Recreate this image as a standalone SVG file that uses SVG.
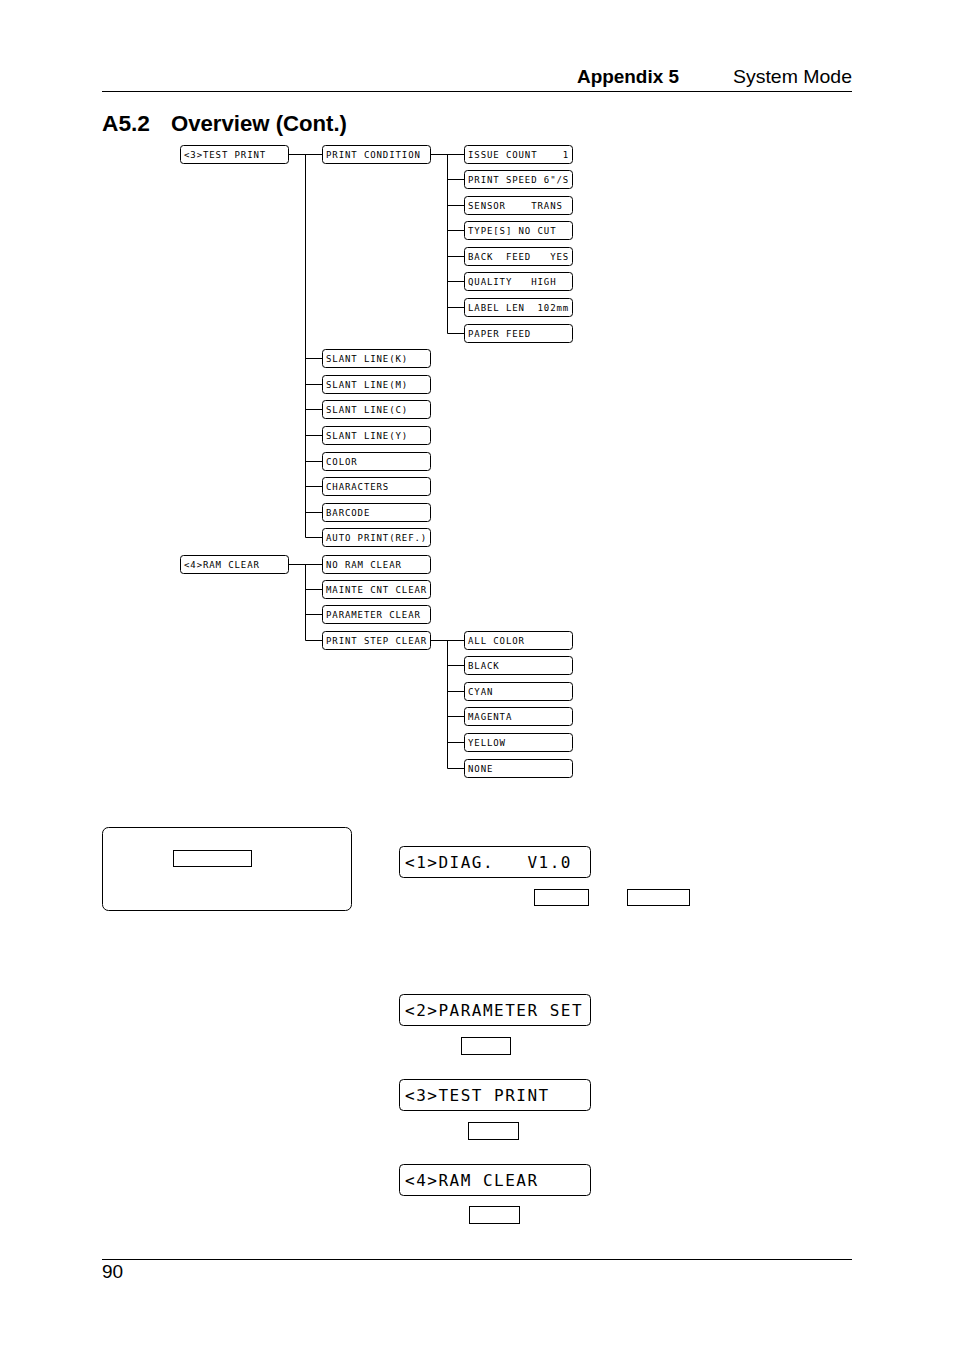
<svg xmlns="http://www.w3.org/2000/svg" width="954" height="1351" viewBox="0 0 954 1351">
<style>
.bg{fill:#fff}
.rule{stroke:#000;stroke-width:1}
.hdr{font-family:"Liberation Sans",Arial,sans-serif;font-size:19px;fill:#000}
.ttl{font-family:"Liberation Sans",Arial,sans-serif;font-size:22px;font-weight:bold;fill:#000}
.nb{fill:#fff;stroke:#000;stroke-width:1}
.nt{font-family:"DejaVu Sans Mono","Liberation Mono",monospace;font-size:9px;letter-spacing:0.9px;fill:#000;white-space:pre}
.lcd{fill:#fff;stroke:#000;stroke-width:1}
.lt{font-family:"DejaVu Sans Mono","Liberation Mono",monospace;font-size:16px;letter-spacing:1.5px;fill:#000;white-space:pre}
.key{fill:#fff;stroke:#000;stroke-width:1}
.cn{fill:none;stroke:#000;stroke-width:1}
</style>
<rect class="bg" x="0" y="0" width="954" height="1351"/>
<!-- header -->
<text class="hdr" x="577" y="83" font-weight="bold" textLength="102" lengthAdjust="spacingAndGlyphs">Appendix 5</text>
<text class="hdr" x="733" y="83" textLength="119" lengthAdjust="spacingAndGlyphs">System Mode</text>
<line class="rule" x1="102" y1="91.5" x2="852" y2="91.5"/>
<text class="ttl" x="102" y="131" textLength="48" lengthAdjust="spacingAndGlyphs">A5.2</text>
<text class="ttl" x="171" y="131" textLength="176" lengthAdjust="spacingAndGlyphs">Overview (Cont.)</text>
<line class="rule" x1="102" y1="1259.5" x2="852" y2="1259.5"/>
<text class="hdr" x="102" y="1278">90</text>

<!-- connectors -->
<g id="connectors">
<path class="cn" d="M288,154.5 H322 M305.5,154.5 V537.5 H322 M305.5,358.5 H322 M305.5,384.5 H322 M305.5,409.5 H322 M305.5,435.5 H322 M305.5,461.5 H322 M305.5,486.5 H322 M305.5,512.5 H322"/>
<path class="cn" d="M430,154.5 H464 M447.5,154.5 V333.5 H464 M447.5,179.5 H464 M447.5,205.5 H464 M447.5,230.5 H464 M447.5,256.5 H464 M447.5,281.5 H464 M447.5,307.5 H464"/>
<path class="cn" d="M288,564.5 H322 M305.5,564.5 V640.5 H322 M305.5,589.5 H322 M305.5,614.5 H322"/>
<path class="cn" d="M430,640.5 H464 M447.5,640.5 V768.5 H464 M447.5,665.5 H464 M447.5,691.5 H464 M447.5,716.5 H464 M447.5,742.5 H464"/>
</g>

<!-- column 1 -->
<g id="n-test-print"><rect class="nb" x="180.5" y="145.5" width="108" height="18" rx="3"/><text class="nt" x="184" y="157.5">&lt;3&gt;TEST PRINT</text></g>
<g id="n-ram-clear"><rect class="nb" x="180.5" y="555.5" width="108" height="18" rx="3"/><text class="nt" x="184" y="567.5">&lt;4&gt;RAM CLEAR</text></g>

<!-- column 2 -->
<g id="n-print-condition"><rect class="nb" x="322.5" y="145.5" width="108" height="18" rx="3"/><text class="nt" x="326" y="157.5">PRINT CONDITION</text></g>
<g id="n-slant-k"><rect class="nb" x="322.5" y="349.5" width="108" height="18" rx="3"/><text class="nt" x="326" y="361.5">SLANT LINE(K)</text></g>
<g id="n-slant-m"><rect class="nb" x="322.5" y="375.5" width="108" height="18" rx="3"/><text class="nt" x="326" y="387.5">SLANT LINE(M)</text></g>
<g id="n-slant-c"><rect class="nb" x="322.5" y="400.5" width="108" height="18" rx="3"/><text class="nt" x="326" y="412.5">SLANT LINE(C)</text></g>
<g id="n-slant-y"><rect class="nb" x="322.5" y="426.5" width="108" height="18" rx="3"/><text class="nt" x="326" y="438.5">SLANT LINE(Y)</text></g>
<g id="n-color"><rect class="nb" x="322.5" y="452.5" width="108" height="18" rx="3"/><text class="nt" x="326" y="464.5">COLOR</text></g>
<g id="n-characters"><rect class="nb" x="322.5" y="477.5" width="108" height="18" rx="3"/><text class="nt" x="326" y="489.5">CHARACTERS</text></g>
<g id="n-barcode"><rect class="nb" x="322.5" y="503.5" width="108" height="18" rx="3"/><text class="nt" x="326" y="515.5">BARCODE</text></g>
<g id="n-auto-print"><rect class="nb" x="322.5" y="528.5" width="108" height="18" rx="3"/><text class="nt" x="326" y="540.5">AUTO PRINT(REF.)</text></g>
<g id="n-no-ram-clear"><rect class="nb" x="322.5" y="555.5" width="108" height="18" rx="3"/><text class="nt" x="326" y="567.5">NO RAM CLEAR</text></g>
<g id="n-mainte"><rect class="nb" x="322.5" y="580.5" width="108" height="18" rx="3"/><text class="nt" x="326" y="592.5">MAINTE CNT CLEAR</text></g>
<g id="n-param-clear"><rect class="nb" x="322.5" y="605.5" width="108" height="18" rx="3"/><text class="nt" x="326" y="617.5">PARAMETER CLEAR</text></g>
<g id="n-print-step"><rect class="nb" x="322.5" y="631.5" width="108" height="18" rx="3"/><text class="nt" x="326" y="643.5">PRINT STEP CLEAR</text></g>

<!-- column 3 -->
<g id="n-issue"><rect class="nb" x="464.5" y="145.5" width="108" height="18" rx="3"/><text class="nt" x="468" y="157.5">ISSUE COUNT    1</text></g>
<g id="n-speed"><rect class="nb" x="464.5" y="170.5" width="108" height="18" rx="3"/><text class="nt" x="468" y="182.5">PRINT SPEED 6"/S</text></g>
<g id="n-sensor"><rect class="nb" x="464.5" y="196.5" width="108" height="18" rx="3"/><text class="nt" x="468" y="208.5">SENSOR    TRANS</text></g>
<g id="n-type"><rect class="nb" x="464.5" y="221.5" width="108" height="18" rx="3"/><text class="nt" x="468" y="233.5">TYPE[S] NO CUT</text></g>
<g id="n-back"><rect class="nb" x="464.5" y="247.5" width="108" height="18" rx="3"/><text class="nt" x="468" y="259.5">BACK  FEED   YES</text></g>
<g id="n-quality"><rect class="nb" x="464.5" y="272.5" width="108" height="18" rx="3"/><text class="nt" x="468" y="284.5">QUALITY   HIGH</text></g>
<g id="n-label"><rect class="nb" x="464.5" y="298.5" width="108" height="18" rx="3"/><text class="nt" x="468" y="310.5">LABEL LEN  102mm</text></g>
<g id="n-paper"><rect class="nb" x="464.5" y="324.5" width="108" height="18" rx="3"/><text class="nt" x="468" y="336.5">PAPER FEED</text></g>
<g id="n-all-color"><rect class="nb" x="464.5" y="631.5" width="108" height="18" rx="3"/><text class="nt" x="468" y="643.5">ALL COLOR</text></g>
<g id="n-black"><rect class="nb" x="464.5" y="656.5" width="108" height="18" rx="3"/><text class="nt" x="468" y="668.5">BLACK</text></g>
<g id="n-cyan"><rect class="nb" x="464.5" y="682.5" width="108" height="18" rx="3"/><text class="nt" x="468" y="694.5">CYAN</text></g>
<g id="n-magenta"><rect class="nb" x="464.5" y="707.5" width="108" height="18" rx="3"/><text class="nt" x="468" y="719.5">MAGENTA</text></g>
<g id="n-yellow"><rect class="nb" x="464.5" y="733.5" width="108" height="18" rx="3"/><text class="nt" x="468" y="745.5">YELLOW</text></g>
<g id="n-none"><rect class="nb" x="464.5" y="759.5" width="108" height="18" rx="3"/><text class="nt" x="468" y="771.5">NONE</text></g>

<!-- lower section -->
<g id="panel"><rect class="lcd" x="102.5" y="827.5" width="249" height="83" rx="6"/><rect class="key" x="173.5" y="850.5" width="78" height="16"/></g>
<g id="lcd-diag"><rect class="lcd" x="399.5" y="846.5" width="191" height="31" rx="4"/><text class="lt" x="405" y="868">&lt;1&gt;DIAG.   V1.0</text></g>
<g id="key-1"><rect class="key" x="534.5" y="889.5" width="54" height="16"/></g>
<g id="key-2"><rect class="key" x="627.5" y="889.5" width="62" height="16"/></g>
<g id="lcd-param"><rect class="lcd" x="399.5" y="994.5" width="191" height="31" rx="4"/><text class="lt" x="405" y="1016">&lt;2&gt;PARAMETER SET</text></g>
<g id="key-3"><rect class="key" x="461.5" y="1037.5" width="49" height="17"/></g>
<g id="lcd-test"><rect class="lcd" x="399.5" y="1079.5" width="191" height="31" rx="4"/><text class="lt" x="405" y="1101">&lt;3&gt;TEST PRINT</text></g>
<g id="key-4"><rect class="key" x="468.5" y="1122.5" width="50" height="17"/></g>
<g id="lcd-ram"><rect class="lcd" x="399.5" y="1164.5" width="191" height="31" rx="4"/><text class="lt" x="405" y="1186">&lt;4&gt;RAM CLEAR</text></g>
<g id="key-5"><rect class="key" x="469.5" y="1206.5" width="50" height="17"/></g>
</svg>
